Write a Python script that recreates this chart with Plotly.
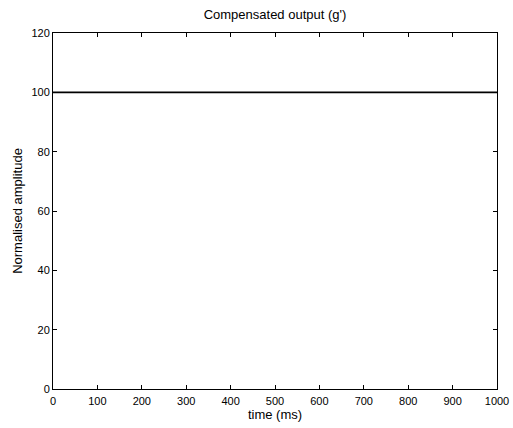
import plotly.graph_objects as go

# Time samples (ms) and normalised amplitude of the compensated output
time_ms = [0, 100, 200, 300, 400, 500, 600, 700, 800, 900, 1000]
amplitude = [100, 100, 100, 100, 100, 100, 100, 100, 100, 100, 100]

x_ticks = [0, 100, 200, 300, 400, 500, 600, 700, 800, 900, 1000]
y_ticks = [0, 20, 40, 60, 80, 100, 120]

FONT = "Liberation Sans, Arial, sans-serif"

fig = go.Figure()
fig.add_trace(go.Scatter(
    x=time_ms, y=amplitude, mode="lines",
    line=dict(color="black", width=1.8),
    showlegend=False,
))

axis_common = dict(
    showgrid=False, zeroline=False, automargin=False,
    showline=True, linecolor="black", linewidth=1, mirror="ticks",
    ticks="inside", ticklen=4, tickcolor="black", tickwidth=1,
    tickfont=dict(family=FONT, size=11, color="black"),
)

fig.update_layout(
    width=513, height=428,
    margin=dict(l=53, r=16, t=33, b=39),
    paper_bgcolor="white", plot_bgcolor="white",
    title=dict(
        text="Compensated output (g')",
        x=0.5, xanchor="center", xref="paper",
        y=1, yref="container", yanchor="top", pad=dict(t=10),
        font=dict(family=FONT, size=13, color="black"),
    ),
    xaxis=dict(
        range=[0, 1000], tickvals=x_ticks, ticklabelstandoff=2,
        title=dict(text="time (ms)", standoff=1,
                   font=dict(family=FONT, size=13, color="black")),
        **axis_common,
    ),
    yaxis=dict(
        range=[0, 120], tickvals=y_ticks,
        title=dict(text="Normalised amplitude", standoff=5,
                   font=dict(family=FONT, size=13, color="black")),
        **axis_common,
    ),
)

fig.write_html("out.html")
